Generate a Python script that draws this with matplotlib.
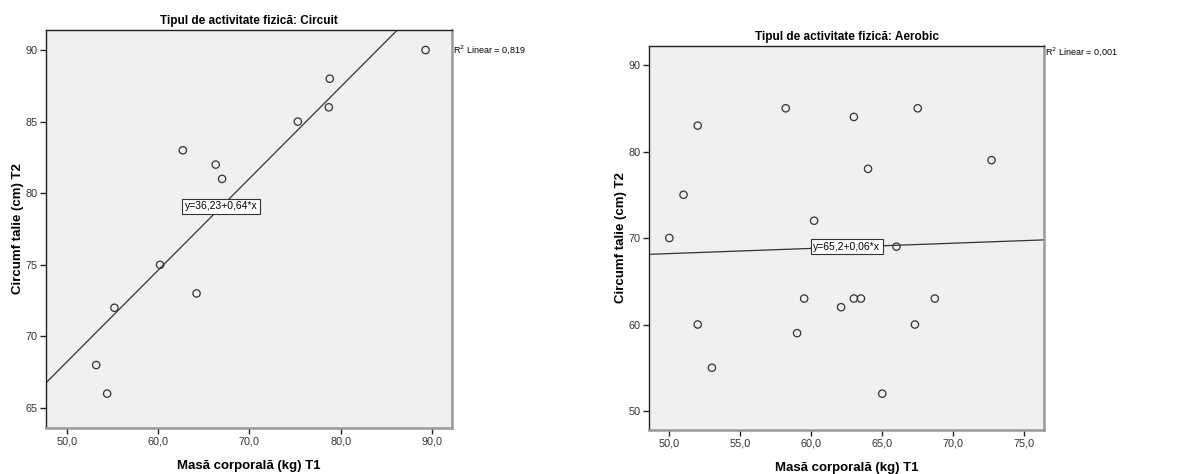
import matplotlib
matplotlib.use("Agg")
import matplotlib.pyplot as plt
from matplotlib.ticker import FuncFormatter

plt.rcParams['font.family'] = ['Liberation Sans Narrow', 'Liberation Sans', 'DejaVu Sans']

# ── data ─────────────────────────────────────────────────────
circuit_x = [89.3, 78.8, 78.7, 75.3, 62.7, 66.3, 67.0, 60.2, 64.2, 55.2, 53.2, 54.4]
circuit_y = [90, 88, 86, 85, 83, 82, 81, 75, 73, 72, 68, 66]
circuit_fit = (36.23, 0.64)
circuit_r2 = "0,819"
circuit_eq = "y=36,23+0,64*x"

aerobic_x = [58.2, 52.0, 51.0, 63.0, 67.5, 64.0, 72.7, 60.2, 50.0, 66.0,
             52.0, 53.0, 59.0, 59.5, 62.1, 63.0, 63.5, 68.7, 67.3, 65.0]
aerobic_y = [85, 83, 75, 84, 85, 78, 79, 72, 70, 69,
             60, 55, 59, 63, 62, 63, 63, 63, 60, 52]
aerobic_fit = (65.2, 0.06)
aerobic_r2 = "0,001"
aerobic_eq = "y=65,2+0,06*x"

circuit_xticks = [50, 60, 70, 80, 90]
circuit_yticks = [65, 70, 75, 80, 85, 90]
aerobic_xticks = [50, 55, 60, 65, 70, 75]
aerobic_yticks = [50, 60, 70, 80, 90]

comma1 = FuncFormatter(lambda v, p: f"{v:.1f}".replace(".", ","))
comma0 = FuncFormatter(lambda v, p: f"{v:.0f}")

fig = plt.figure(figsize=(11.92, 4.74), dpi=100)


def panel(rect, xs, ys, fit, r2, eq, eq_pos, xlim, ylim, xticks, yticks, title, r2_y):
    ax = fig.add_axes(rect)
    ax.set_facecolor("#f0f0f0")
    ax.scatter(xs, ys, s=28, facecolors="none", edgecolors="#333333",
               linewidths=0.9, zorder=3)
    a, b = fit
    ax.plot(xlim, [a + b * xlim[0], a + b * xlim[1]], color="#333333", lw=0.9, zorder=2)
    ax.set_xlim(xlim)
    ax.set_ylim(ylim)
    ax.set_xticks(xticks)
    ax.set_yticks(yticks)
    ax.xaxis.set_major_formatter(comma1)
    ax.yaxis.set_major_formatter(comma0)
    ax.tick_params(direction="out", length=4, width=1, labelsize=7.8,
                   labelcolor="#333333", color="#222222", pad=2)
    for side in ("top", "left"):
        ax.spines[side].set_color("#222222")
        ax.spines[side].set_linewidth(1.0)
    for side in ("right", "bottom"):
        ax.spines[side].set_color("#999999")
        ax.spines[side].set_linewidth(1.8)
    ax.set_title(title, fontsize=8.5, fontweight="bold", pad=4)
    ax.set_xlabel("Masă corporală (kg) T1", fontsize=9.5, fontweight="bold", labelpad=10)
    ax.set_ylabel("Circumf talie (cm) T2", fontsize=9.5, fontweight="bold", labelpad=1)
    ax.text(eq_pos[0], eq_pos[1], eq, fontsize=7.5, ha="center", va="center",
            bbox=dict(boxstyle="square,pad=0.25", fc="white", ec="#333333", lw=0.8),
            zorder=4)
    x_r2 = rect[0] + rect[2] + 0.001
    fig.text(x_r2, r2_y, "R$^2$ Linear = " + r2, fontsize=6.5, ha="left", va="center")
    return ax


panel([0.0386, 0.0970, 0.3406, 0.8397], circuit_x, circuit_y, circuit_fit,
      circuit_r2, circuit_eq, (66.9, 79.1), (47.7, 92.2), (63.6, 91.4),
      circuit_xticks, circuit_yticks, "Tipul de activitate fizică: Circuit",
      1 - 50 / 474)

panel([0.5445, 0.0928, 0.3314, 0.8101], aerobic_x, aerobic_y, aerobic_fit,
      aerobic_r2, aerobic_eq, (62.5, 69.0), (48.57, 76.4), (47.8, 92.2),
      aerobic_xticks, aerobic_yticks, "Tipul de activitate fizică: Aerobic",
      1 - 52 / 474)

fig.savefig("out.png", dpi=100)
